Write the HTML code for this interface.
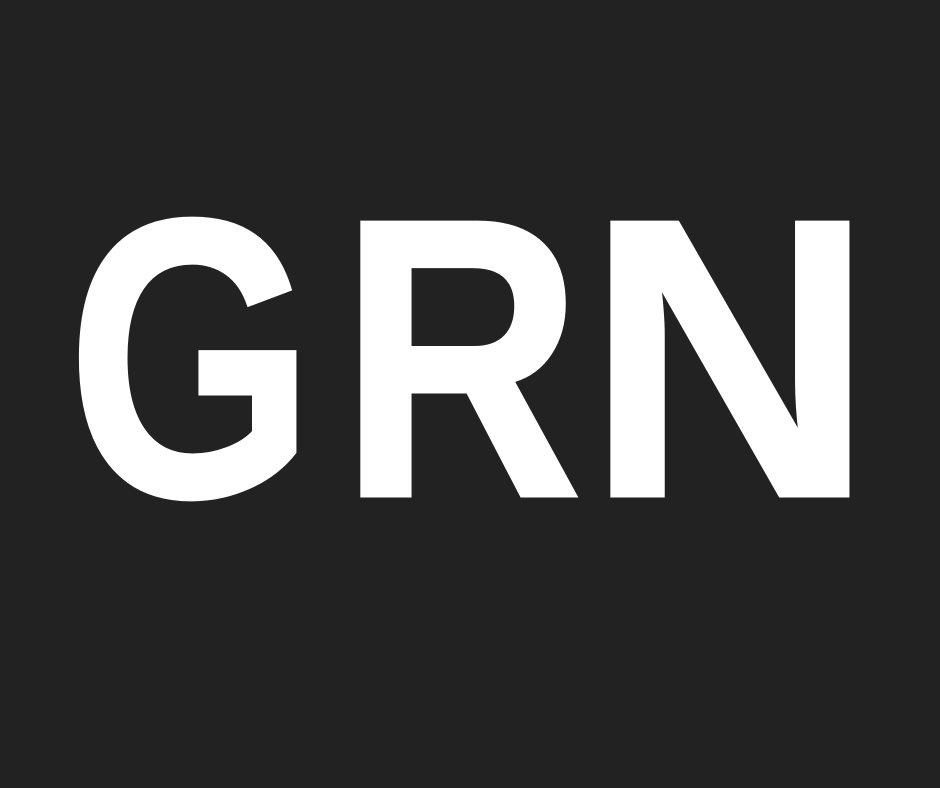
<!DOCTYPE html>
<html>
<head>
<meta charset="utf-8">
<style>
  html, body { margin: 0; padding: 0; background: #222222; }
  body { width: 940px; height: 788px; overflow: hidden; }
  svg { display: block; }
</style>
</head>
<body>
<svg width="940" height="788" viewBox="0 0 940 788">
  <rect x="0" y="0" width="940" height="788" fill="#222222"/>
  <g font-family="'Liberation Sans', 'DejaVu Sans', sans-serif" font-weight="bold" font-size="398" fill="#ffffff" stroke="#ffffff" stroke-width="3" stroke-linejoin="miter">
    <text x="67" y="496" textLength="248" lengthAdjust="spacingAndGlyphs">G</text>
    <text x="339" y="496" textLength="244" lengthAdjust="spacingAndGlyphs">R</text>
    <text x="585" y="496" textLength="290" lengthAdjust="spacingAndGlyphs">N</text>
  </g>
</svg>
</body>
</html>
